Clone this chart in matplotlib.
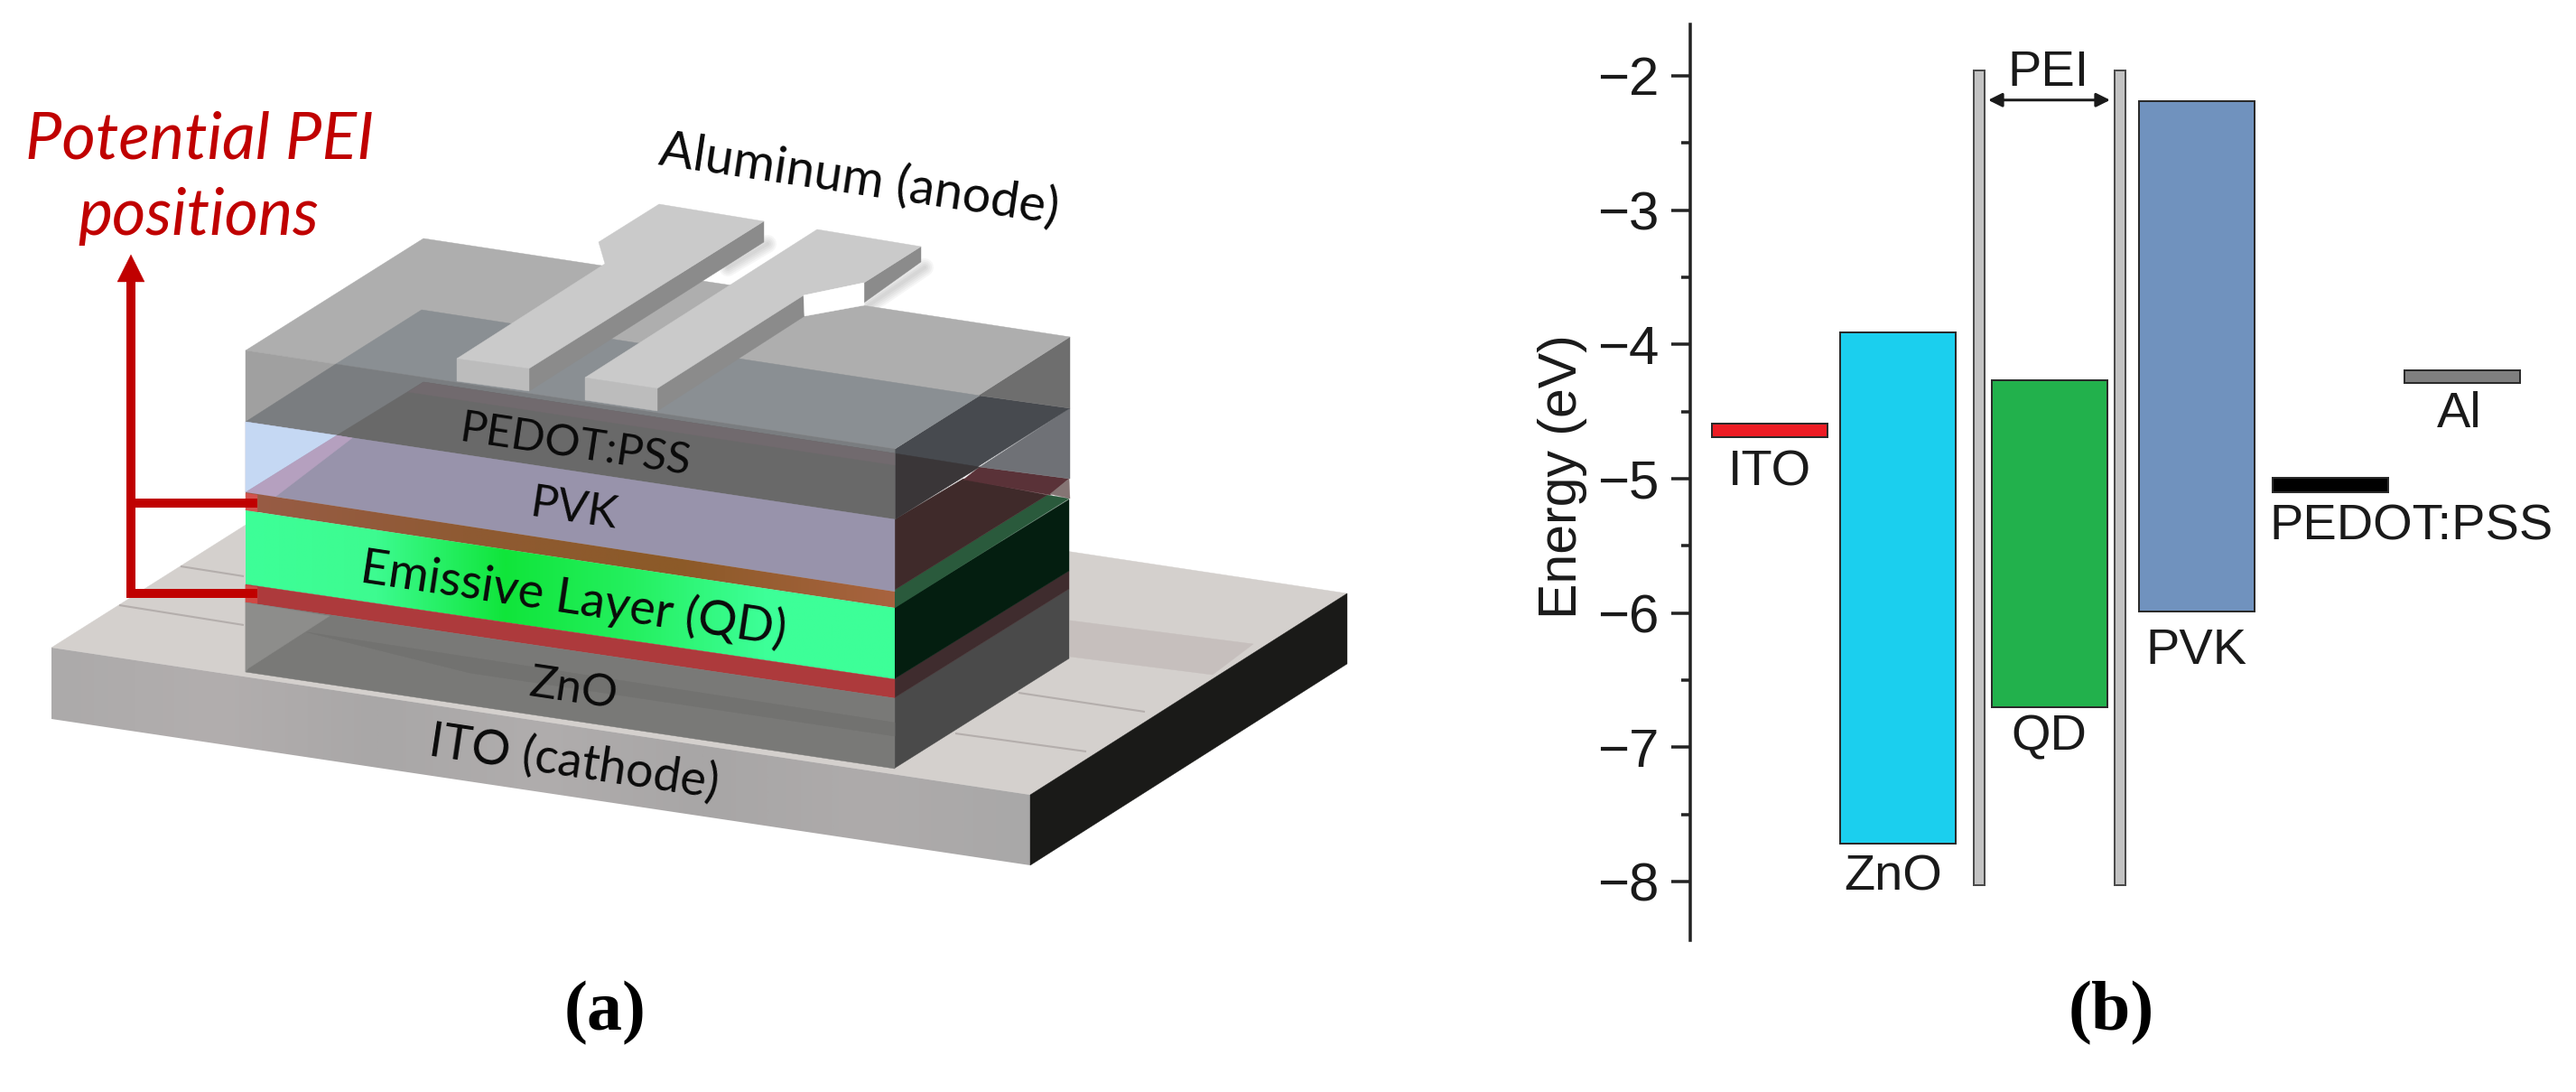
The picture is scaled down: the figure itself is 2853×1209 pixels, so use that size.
import numpy as np
import matplotlib
matplotlib.use("Agg")
import matplotlib.pyplot as plt
from matplotlib.patches import Polygon
from matplotlib.colors import LinearSegmentedColormap

W, H = 2853, 1209
DPI = 100
PX = 72 / DPI

# ---- panel (b) data: energy levels (eV)
levels = ["ITO", "ZnO", "QD", "PVK", "PEDOT:PSS", "Al"]
level_top = [-4.59, -3.91, -4.27, -2.19, -4.99, -4.19]
level_bottom = [-4.69, -7.72, -6.70, -5.99, -5.10, -4.29]
level_colors = ["#ed1c24", "#1bcfee", "#22b14c", "#7092be", "#000000", "#7f7f7f"]
pei_top = [-1.96, -1.96]
pei_bottom = [-8.03, -8.03]
yticks = [-2, -3, -4, -5, -6, -7, -8]
yminor = [-2.5, -3.5, -4.5, -5.5, -6.5, -7.5]

fig = plt.figure(figsize=(W / DPI, H / DPI), dpi=DPI, facecolor="white")

# ---------- panel (a): illustration in a pixel-addressed overlay
ax = fig.add_axes([0, 0, 1, 1])
ax.set_xlim(0, W)
ax.set_ylim(H, 0)
ax.axis("off")


def P(color, pts, alpha=1.0, z=2):
    ax.add_patch(Polygon(pts, closed=True, fc=color, ec=color, lw=0.3, alpha=alpha, zorder=z))


def grad(pts, stops, z=2):
    xs = [p[0] for p in pts]
    ys = [p[1] for p in pts]
    cm = LinearSegmentedColormap.from_list("g", stops)
    im = ax.imshow(np.linspace(0, 1, 512)[None, :], cmap=cm, aspect="auto",
                   extent=(min(xs), max(xs), max(ys), min(ys)), zorder=z)
    clip = Polygon(pts, closed=True, transform=ax.transData, fc="none", ec="none")
    ax.add_patch(clip)
    im.set_clip_path(clip)


# substrate
P("#d4d0cd", [(57, 717), (410, 494), (1492, 657), (1141, 880)])
P("#c6bfbd", [(1185, 687), (1388, 713), (1343, 747), (1185, 727)])
for seg in [((200, 627), (270, 638)), ((132, 670), (270, 692)),
            ((1128, 767), (1268, 788)), ((1058, 812), (1203, 832))]:
    ax.plot(*zip(*seg), color="#b4aeac", lw=1.5, zorder=2, solid_capstyle="butt")
grad([(57, 717), (1141, 880), (1141, 958), (57, 796)],
     ["#acaaaa", "#b2aeae", "#a9a7a7", "#b0adad", "#a8a6a6", "#aeabab", "#a9a8a8"])
P("#1a1a18", [(1141, 880), (1492, 657), (1492, 735), (1141, 958)])

# soft shadows cast by the strip ends on the white background
for lw_px in (4, 8, 12, 16, 20):
    ax.plot([962, 1024], [338, 296], color="#808080", alpha=0.07, lw=lw_px * PX, zorder=1.5,
            solid_capstyle="round")
    ax.plot([806, 850], [296, 270], color="#808080", alpha=0.07, lw=lw_px * PX, zorder=1.5,
            solid_capstyle="round")

# block - right side
P("#4a4a4a", [(990, 773), (1184, 652), (1184, 729), (990, 851)])
P("#3f2c2e", [(990, 752), (1184, 632), (1184, 652), (990, 773)])
P("#041e10", [(990, 673), (1184, 553), (1184, 632), (990, 752)])
P("#2a5a3c", [(991, 653), (1160, 548), (1184, 552), (991, 673)])
P("#3f2a2a", [(991, 575), (1067, 530), (1160, 548), (991, 653)])
P("#5a3238", [(1085, 517), (1184, 530), (1163, 548), (1067, 531)])
P("#857574", [(1184, 530), (1185, 552), (1163, 547)])
P("#6f7176", [(1185, 452), (1185, 530), (1085, 517)])
P("#474a4f", [(991, 497), (1085, 438), (1185, 452), (991, 575)])
P("#3a3638", [(991, 502), (1085, 517), (991, 575)])
P("#6e6e6e", [(991, 497), (1185, 373), (1185, 452), (1085, 438)])

# block - top face
P("#aeaeae", [(272, 388), (469, 264), (1185, 373), (991, 497)])
P("#8a8f93", [(372, 403), (467, 343), (1085, 438), (991, 497)])

# block - front faces
P("#a0a0a0", [(272, 388), (991, 497), (991, 575), (272, 467)])
P("#7a7d80", [(272, 467), (372, 403), (991, 497), (991, 575)])
P("#696969", [(373, 482), (469, 423), (991, 502), (991, 575)])
P("#716a6e", [(469, 423), (991, 502), (991, 515), (452, 434)])
P("#9893ab", [(272, 467), (991, 575), (991, 655), (272, 545)])
P("#c5d8f3", [(272, 467), (373, 482), (272, 545)])
P("#b5a0bf", [(272, 545), (373, 482), (390, 485), (305, 550)])
grad([(272, 545), (991, 655), (991, 673), (272, 565)],
     ["#985c46", "#8f5a33", "#8c5a28", "#a8633f"])
P("#d2524e", [(272, 546), (285, 548), (285, 567), (272, 565)])
grad([(272, 565), (991, 673), (991, 752), (272, 647)],
     ["#3dff98", "#3dfb90", "#10e53a", "#25f060", "#3dff98", "#3dff98"])
P("#ad3a3c", [(272, 647), (991, 752), (991, 773), (272, 667)])
P("#d04844", [(272, 648), (285, 650), (285, 669), (272, 667)])
P("#797977", [(272, 667), (991, 773), (991, 851), (272, 744)])
P("#8d8d8b", [(272, 667), (365, 682), (275, 740), (272, 744)])
P("#727270", [(340, 700), (991, 800), (991, 815), (520, 745)])

# aluminium strips
P("#8b8b8b", [(586, 408), (846, 245), (846, 268), (586, 433)])
P("#bcbcbc", [(506, 397), (586, 408), (586, 433), (506, 422)])
P("#cacaca", [(506, 397), (586, 408), (846, 245), (730, 226), (663, 268), (670, 292)])
P("#8b8b8b", [(728, 430), (890, 327), (891, 350), (728, 455)])
P("#8b8b8b", [(957, 313), (1020, 273), (1020, 290), (957, 335)])
P("#bcbcbc", [(648, 418), (728, 430), (728, 455), (648, 443)])
P("#cacaca", [(648, 418), (728, 430), (890, 327), (957, 313), (1020, 273), (905, 254)])
P("#ffffff", [(890, 327), (957, 313), (957, 338), (891, 350)])

# red arrows
RED = "#c00000"
ax.plot([145, 145], [662, 310], color=RED, lw=10 * PX, solid_capstyle="butt", zorder=4)
P(RED, [(145, 282), (160, 312), (130, 312)], z=4)
ax.plot([140, 285], [556.5, 556.5], color=RED, lw=10 * PX, solid_capstyle="butt", zorder=4)
ax.plot([140, 285], [657, 657], color=RED, lw=10 * PX, solid_capstyle="butt", zorder=4)

# texts of panel (a)
FONT = "Lato"
ax.text(221, 175, "Potential PEI", color=RED, family=FONT, style="italic", fontsize=72 * PX,
        ha="center", va="baseline", zorder=6)
ax.text(220, 260, "positions", color=RED, family=FONT, style="italic", fontsize=72 * PX,
        ha="center", va="baseline", zorder=6)
for s, x, y, fs in [("Aluminum (anode)", 952, 199, 56), ("PEDOT:PSS", 637, 493, 49),
                    ("PVK", 636, 564, 50), ("Emissive Layer (QD)", 635, 663, 54),
                    ("ZnO", 635, 763, 50), ("ITO (cathode)", 636, 844, 54)]:
    ax.text(x, y, s, color="#0a0a0a", family=FONT, fontsize=fs * PX, rotation=-8.5,
            rotation_mode="anchor", ha="center", va="center", zorder=6)
ax.text(670, 1122, "(a)", family="Liberation Serif", weight="bold", fontsize=78 * PX,
        ha="center", va="center", color="black", zorder=6)
ax.text(2338, 1122, "(b)", family="Liberation Serif", weight="bold", fontsize=78 * PX,
        ha="center", va="center", color="black", zorder=6)

# ---------- panel (b): axes
L, R, T, B = 1872, W, 27, 1041
axb = fig.add_axes([L / W, 1 - B / H, (R - L) / W, (B - T) / H])
axb.patch.set_alpha(0)
axb.set_xlim(L, R)
axb.set_ylim(-8 - (B - 976) / 148.7, -2 + (84 - T) / 148.7)
for s in ("top", "right", "bottom"):
    axb.spines[s].set_visible(False)
axb.spines["left"].set_linewidth(3.5 * PX)
axb.spines["left"].set_color("#222222")
axb.set_xticks([])
axb.set_yticks(yticks)
axb.set_yticklabels([f"\u2212{abs(v)}" for v in yticks], family="Liberation Sans", fontsize=60 * PX,
                    color="#1a1a1a")
axb.set_yticks(yminor, minor=True)
axb.tick_params(axis="y", which="major", length=21 * PX, width=3.5 * PX, color="#222222", pad=14 * PX)
axb.tick_params(axis="y", which="minor", length=10 * PX, width=3.5 * PX, color="#222222")
fig.text(1730.5 / W, 1 - 528 / H, "Energy (eV)", family="Liberation Sans", fontsize=59 * PX,
         rotation=90, ha="center", va="center", color="#1a1a1a")

level_x = [1959.5, 2102, 2269.5, 2432.5, 2580.5, 2727]
heights = [t - b for t, b in zip(level_top, level_bottom)]
axb.bar(level_x, heights, bottom=level_bottom, width=128, color=level_colors,
        edgecolor="#2a2a2a", linewidth=2 * PX)
pei_x = [2192, 2348]
axb.bar(pei_x, [t - b for t, b in zip(pei_top, pei_bottom)], bottom=pei_bottom, width=12,
        color="#c3c3c3", edgecolor="#4a4a4a", linewidth=2 * PX)
axb.annotate("", xy=(2337, -2.18), xytext=(2202, -2.18),
             arrowprops=dict(arrowstyle="<|-|>", color="#1a1a1a", lw=3 * PX, mutation_scale=23,
                             shrinkA=0, shrinkB=0))
label_pos = [(1960, 524), (2097, 971), (2269, 816), (2432.6, 721), (2670, 584), (2724, 459)]
for s, (x, y) in zip(levels, label_pos):
    fig.text(x / W, 1 - y / H, s, family="Liberation Sans", fontsize=56 * PX, ha="center",
             va="center", color="#1a1a1a")
fig.text(2269 / W, 1 - 81 / H, "PEI", family="Liberation Sans", fontsize=56 * PX, ha="center",
         va="center", color="#1a1a1a")

fig.savefig("out.png", dpi=DPI, facecolor="white")
